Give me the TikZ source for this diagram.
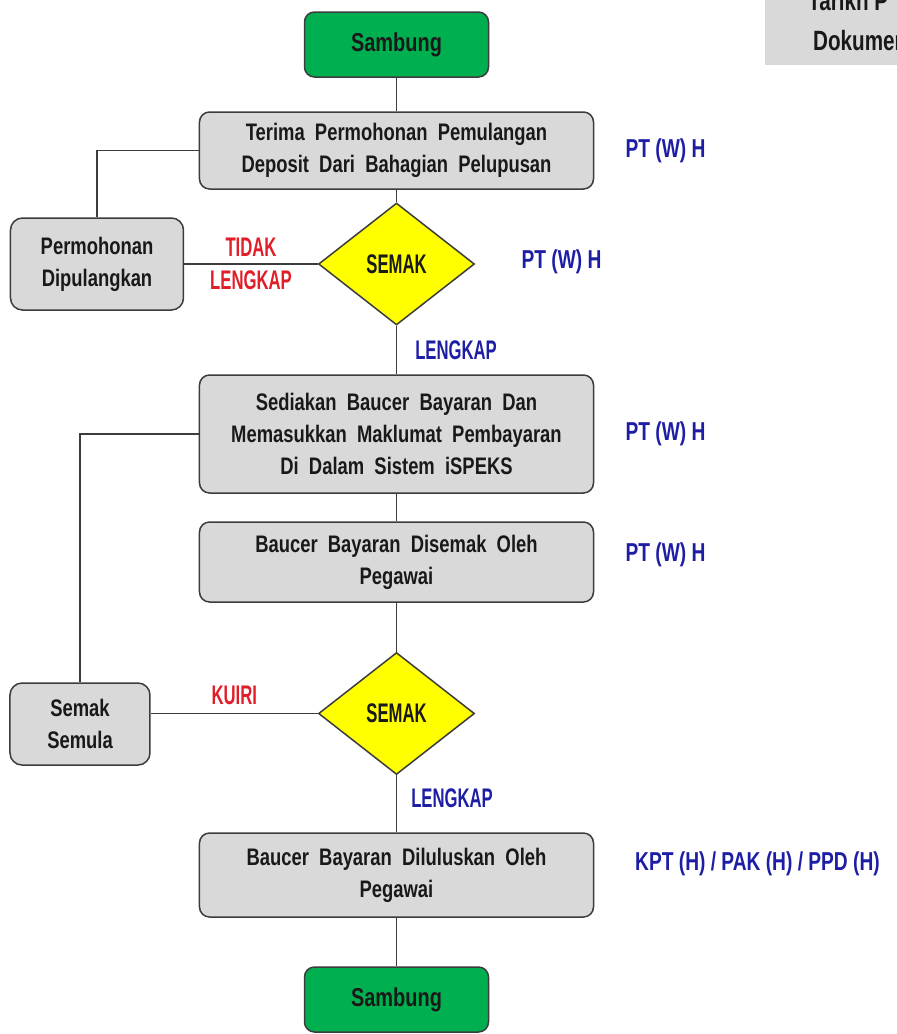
\documentclass[tikz,border=0pt]{standalone}
\usepackage{fontspec}
\setmainfont{Liberation Sans}[FakeStretch=0.77,WordSpace=2]
\newfontfamily\rolefont{Liberation Sans}[FakeStretch=0.74]
\newfontfamily\capsfont{Liberation Sans}[FakeStretch=0.62]
\usetikzlibrary{positioning,shapes.geometric}
\definecolor{boxgrey}{RGB}{217,217,217}
\definecolor{edgegrey}{RGB}{60,60,60}
\definecolor{startgreen}{RGB}{0,176,80}
\definecolor{checkyellow}{RGB}{255,255,0}
\definecolor{roleblue}{RGB}{30,30,165}
\definecolor{nored}{RGB}{225,30,40}

\begin{document}
\begin{tikzpicture}[x=1bp,y=1bp,
    flow box/.style={rectangle,rounded corners=10bp,draw=edgegrey,line width=1.5bp,fill=boxgrey,
      align=center,inner sep=0pt,minimum width=394bp,text=black!90,font=\fontsize{24}{32}\selectfont\bfseries},
    end node/.style={flow box,fill=startgreen,minimum width=184bp,minimum height=65bp,
      font=\fontsize{26}{30}\selectfont\bfseries},
    side box/.style={flow box,rounded corners=12bp},
    check node/.style={diamond,draw=edgegrey,line width=1.5bp,fill=checkyellow,inner sep=0pt,
      minimum width=156bp,minimum height=122bp,text=black!90,font=\capsfont\fontsize{27}{30}\selectfont\bfseries},
    role label/.style={text=roleblue,inner sep=1bp,font=\rolefont\fontsize{26}{30}\selectfont\bfseries},
    yes label/.style={text=roleblue,inner sep=1bp,font=\capsfont\fontsize{27}{30}\selectfont\bfseries},
    no label/.style={text=nored,inner sep=1bp,align=center,font=\capsfont\fontsize{27}{33}\selectfont\bfseries},
    link/.style={draw=edgegrey,line width=1.5bp}]

\useasboundingbox (0,0) rectangle (897,-1034);

% main column
\node[end node]                     (s1) at (396.5,-44.5)                  {Sambung};
\node[flow box,minimum height=77bp] (t1) [node distance=106bp,below of=s1] {Terima Permohonan Pemulangan\\Deposit Dari Bahagian Pelupusan};
\node[check node]                   (d1) [node distance=113.5bp,below of=t1] {SEMAK};
\node[flow box,minimum height=118bp] (b2) [node distance=170bp,below of=d1] {Sediakan Baucer Bayaran Dan\\Memasukkan Maklumat Pembayaran\\Di Dalam Sistem iSPEKS};
\node[flow box,minimum height=80bp] (b3) [node distance=128bp,below of=b2] {Baucer Bayaran Disemak Oleh\\Pegawai};
\node[check node]                   (d2) [node distance=151.5bp,below of=b3] {SEMAK};
\node[flow box,minimum height=84bp] (b4) [node distance=161.5bp,below of=d2] {Baucer Bayaran Diluluskan Oleh\\Pegawai};
\node[end node]                     (s2) [node distance=124.5bp,below of=b4] {Sambung};

% side boxes
\node[side box,minimum width=173bp,minimum height=92bp] (pd) [node distance=299.5bp,left of=d1] {Permohonan\\Dipulangkan};
\node[side box,minimum width=140bp,minimum height=82bp] (ss) [node distance=316.5bp,left of=d2,yshift=-10.5bp] {Semak\\Semula};

% who does it
\node[role label] (r1) [node distance=269bp,right of=t1]             {PT (W) H};
\node[role label] (r2) [node distance=165bp,right of=d1,yshift=2bp]  {PT (W) H};
\node[role label] (r3) [node distance=269bp,right of=b2]             {PT (W) H};
\node[role label] (r4) [node distance=269bp,right of=b3,yshift=7bp]  {PT (W) H};
\node[role label] (r5) [node distance=361bp,right of=b4,yshift=11bp] {KPT (H) / PAK (H) / PPD (H)};

\path[link]
(s1) edge (t1)
(t1) edge (d1)
(d1) edge node[yes label,anchor=west,xshift=17bp] {LENGKAP} (b2)
(b2) edge (b3)
(b3) edge (d2)
(d2) edge node[yes label,anchor=west,xshift=13bp,pos=0.4] {LENGKAP} (b4)
(b4) edge (s2)
(d1) edge node[no label] {TIDAK\\LENGKAP} (pd)
(d2) edge node[no label,above=7bp] {KUIRI} (ss.east |- d2);

\draw[link] (t1.west) -| (pd.north);
\draw[link] (b2.west) -| (ss.north);

% cut-off note, top right
\begin{scope}
\clip (765,0) rectangle (897,-65);
\fill[boxgrey] (765,0) rectangle (897,-65);
\node[anchor=base west,inner sep=0pt,text=black!90,font=\rolefont\fontsize{28}{30}\selectfont\bfseries] (tarikh) at (808,-10) {Tarikh P};
\node[anchor=base west,inner sep=0pt,text=black!90,font=\rolefont\fontsize{28}{30}\selectfont\bfseries] (dokumen) at (813,-50) {Dokumen};
\end{scope}
\end{tikzpicture}
\end{document}
